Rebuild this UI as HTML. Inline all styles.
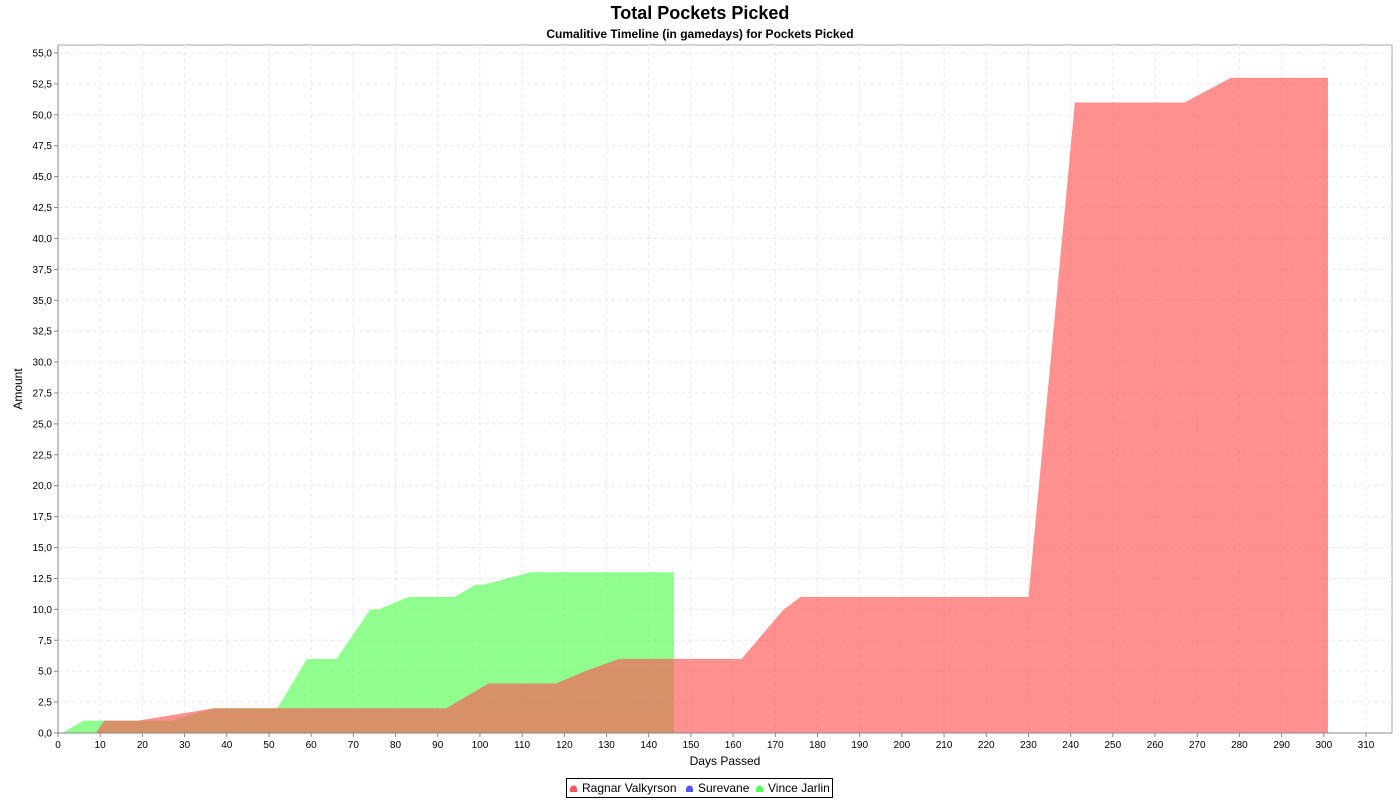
<!DOCTYPE html>
<html><head><meta charset="utf-8"><style>
body{margin:0;background:#fff;font-family:"Liberation Sans",sans-serif;}
svg text{font-family:"Liberation Sans",sans-serif;}
</style></head><body>
<svg id="chart" width="1400" height="800" xmlns="http://www.w3.org/2000/svg">
<text x="700" y="19" text-anchor="middle" font-size="18" font-weight="bold">Total Pockets Picked</text>
<text x="700" y="38" text-anchor="middle" font-size="12" font-weight="bold">Cumalitive Timeline (in gamedays) for Pockets Picked</text>
<rect x="58" y="45" width="1334" height="688" fill="#fff" stroke="#aaa"/>
<g id="grid"></g>
<g id="series"></g>
<g id="axes"></g>
<text x="725" y="765" text-anchor="middle" font-size="12">Days Passed</text>
<text transform="translate(22,389) rotate(-90)" text-anchor="middle" font-size="12">Amount</text>
<g>
<rect x="566.5" y="778.5" width="266" height="19" fill="#fff" stroke="#000"/>
<g><path d="M570,792 v-3 a3.5,3.5 0 0 1 7,0 v3 z" fill="#FF5555"/><text x="582" y="792" font-size="12">Ragnar Valkyrson</text></g>
<g><path d="M686,792 v-3 a3.5,3.5 0 0 1 7,0 v3 z" fill="#5555FF"/><text x="698" y="792" font-size="12">Surevane</text></g>
<g><path d="M756,792 v-3 a3.5,3.5 0 0 1 7,0 v3 z" fill="#55FF55"/><text x="768" y="792" font-size="12">Vince Jarlin</text></g>
</g>
</svg>
<script>
const xTicks=[0,10,20,30,40,50,60,70,80,90,100,110,120,130,140,150,160,170,180,190,200,210,220,230,240,250,260,270,280,290,300,310];
const yTicks=[0,2.5,5,7.5,10,12.5,15,17.5,20,22.5,25,27.5,30,32.5,35,37.5,40,42.5,45,47.5,50,52.5,55];
const vinceX=[1,6,27,37,52,59,66,74,76,83,94,99,101,112,146];
const vinceY=[0,1,1,2,2,6,6,10,10,11,11,12,12,13,13];
const ragnarX=[9,11,19,37,92,102,118,125,133,162,172,176,230,241,267,278,301];
const ragnarY=[0,1,1,2,2,4,4,5,6,6,10,11,11,51,51,53,53];
const X0=58,XS=1308/310,Y0=733,YS=680/55;
const sx=v=>X0+v*XS, sy=v=>Y0-v*YS;
const NS="http://www.w3.org/2000/svg";
const grid=document.getElementById('grid'),axes=document.getElementById('axes'),ser=document.getElementById('series');
function mk(tag,at,par){const e=document.createElementNS(NS,tag);for(const k in at)e.setAttribute(k,at[k]);par.appendChild(e);return e;}
xTicks.forEach(t=>{
 const l=mk('line',{x1:sx(t),x2:sx(t),y1:45,y2:733,stroke:'#ececec','stroke-dasharray':'4,3'},grid);
 
 
 const k=mk('line',{x1:sx(t),x2:sx(t),y1:733,y2:737,stroke:'#888'},axes);
 
 
 const tx=mk('text',{x:sx(t),y:748,'text-anchor':'middle','font-size':'10'},axes);
 tx.textContent=t;
 
 
});
yTicks.forEach(t=>{
 const l=mk('line',{x1:58,x2:1392,y1:sy(t),y2:sy(t),stroke:'#ececec','stroke-dasharray':'4,3'},grid);
 
 
 const k=mk('line',{x1:54,x2:58,y1:sy(t),y2:sy(t),stroke:'#888'},axes);
 
 
 const tx=mk('text',{x:52,y:sy(t)+3.5,'text-anchor':'end','font-size':'10'},axes);
 tx.textContent=t.toFixed(1).replace('.',',');
 
 
});
const ax1=mk('line',{x1:58,x2:58,y1:45,y2:733,stroke:'#888'},axes);


const ax2=mk('line',{x1:58,x2:1392,y1:733,y2:733,stroke:'#888'},axes);


function area(xs,ys,col,name){
 let d='M'+sx(xs[0])+','+sy(0);
 xs.forEach((x,i)=>d+=' L'+sx(x)+','+sy(ys[i]));
 d+=' L'+sx(xs[xs.length-1])+','+sy(0)+' Z';
 const p=mk('path',{d:d,fill:col,'fill-opacity':'0.65'},ser);
 
 
}
area(vinceX,vinceY,'#55FF55','area-vince-jarlin');
area(ragnarX,ragnarY,'#FF5555','area-ragnar-valkyrson');
</script>
</body></html>
